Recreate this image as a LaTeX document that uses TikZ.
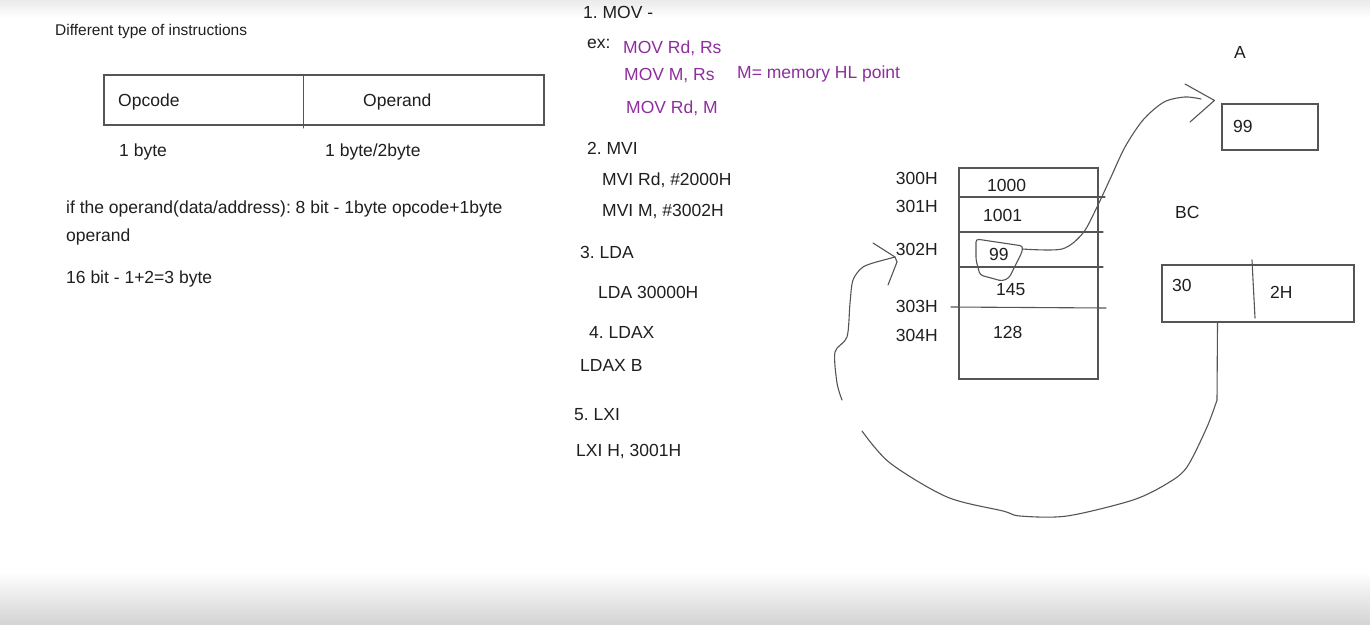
\documentclass[tikz,border=0pt]{standalone}
\usepackage{fontspec}
\setmainfont{Liberation Sans}
\definecolor{movpurple}{RGB}{142,46,158}
\definecolor{inkgrey}{RGB}{85,85,85}
\frenchspacing

\begin{document}
\begin{tikzpicture}[x = 1pt, y = -1pt,
		tnode/.style = {anchor = base west,
		                inner sep = 0pt,
		                text = black!88,
		                font = \fontsize{17.5}{21}\selectfont},
		pnode/.style = {tnode, text = movpurple},
		bnode/.style = {shape = rectangle,
		                draw = inkgrey,
		                line width = 1.1pt,
		                inner sep = 0pt},
		hand/.style = {draw = inkgrey, line width = 1.1pt, line cap = round, line join = round}]
		% page and fades
		\fill[white] (0,0) rectangle (1370,624);
		\useasboundingbox (0,0) rectangle (1370,624);
		\shade[top color = black!8, bottom color = white] (0,0) rectangle (1370,18);
		\shade[top color = white, bottom color = black!17] (0,572) rectangle (1370,624);

		% instruction format
		\node[tnode, font = \fontsize{15.5}{18}\selectfont] (title) at (55,35) {Different type of instructions};
		\node[bnode, minimum width = 440, minimum height = 50] (instr) at (324,100) {};
		\draw[hand, line width = 1pt] (303,75) -- (303,128);
		\node[tnode] (opc) at (118,106) {Opcode};
		\node[tnode] (opd) at (363,106) {Operand};
		\node[tnode] (opcsize) at (119,156) {1 byte};
		\node[tnode] (opdsize) at (325,156) {1 byte/2byte};
		\node[tnode] (rule8) at (66,213) {if the operand(data/address): 8 bit - 1byte opcode+1byte};
		\node[tnode] (rule8b) at (66,241) {operand};
		\node[tnode] (rule16) at (66,283) {16 bit - 1+2=3 byte};

		% instruction list
		\node[tnode] (mov) at (583,18) {1. MOV -};
		\node[tnode] (ex) at (587,48) {ex:};
		\node[pnode] (mov1) at (623,53) {MOV Rd, Rs};
		\node[pnode] (mov2) at (624,80) {MOV M, Rs};
		\node[pnode] (mdef) at (737,78) {M= memory HL point};
		\node[pnode] (mov3) at (626,113) {MOV Rd, M};
		\node[tnode] (mvi) at (587,154) {2. MVI};
		\node[tnode] (mvi1) at (602,185) {MVI Rd, \#2000H};
		\node[tnode] (mvi2) at (602,216) {MVI M, \#3002H};
		\node[tnode] (lda) at (580,258) {3. LDA};
		\node[tnode] (lda1) at (598,298) {LDA 30000H};
		\node[tnode] (ldax) at (589,338) {4. LDAX};
		\node[tnode] (ldax1) at (580,371) {LDAX B};
		\node[tnode] (lxi) at (574,420) {5. LXI};
		\node[tnode] (lxi1) at (576,456) {LXI H, 3001H};

		% memory
		\node[bnode, minimum width = 139, minimum height = 211] (memory) at (1028.5,273.5) {};
		\foreach \y/\e in {197/1105, 232/1103, 267/1103}
			\draw[hand] (959,\y) -- (\e,\y);
		\draw[hand] (951,307) -- (1106,308);
		\foreach \n/\y in {300/184, 301/212, 302/255, 303/312, 304/341}
			\node[tnode, anchor = base east] (a\n) at (938,\y) {\n H};
		\node[tnode] (v300) at (987,191) {1000};
		\node[tnode] (v301) at (983,221) {1001};
		\node[tnode] (v302) at (989,260) {99};
		\node[tnode] (v303) at (996,295) {145};
		\node[tnode] (v304) at (993,338) {128};
		\draw[hand, rounded corners = 3] (976,239) -- (1023,246) -- (1022,252) -- (1009,278)
			-- (1002,281) -- (980,275) -- (976,260) -- cycle;

		% registers
		\node[tnode] (labA) at (1234,58) {A};
		\node[bnode, minimum width = 96, minimum height = 46] (regA) at (1270,127) {};
		\node[tnode] (valA) at (1233,132) {99};
		\node[tnode] (labBC) at (1175,218) {BC};
		\node[bnode, minimum width = 192, minimum height = 57] (regBC) at (1258,293.5) {};
		\draw[hand] (1252,260) -- (1253,280) -- (1255,318);
		\node[tnode] (valB) at (1172,291) {30};
		\node[tnode] (valC) at (1270,298) {2H};

		% 99 goes to A
		\coordinate (loopR) at (1022,249);
		\coordinate (tipA) at ([shift = {(-7,-3)}]regA.north west);
		\draw[hand] plot[smooth, tension = 0.5] coordinates {(loopR) (1062,249) (1083,233) (1097,207)
			(1111,177) (1125,147) (1143,120) (1164,102) (1185,97) (1201,99)};
		\draw[hand] (1185,84) -- (tipA) -- (1190,122);

		% BC points at 302H
		\coordinate (tip302) at (895,257);
		\draw[hand] ([xshift = -40.5]regBC.south) -- plot[smooth, tension = 0.5] coordinates {(1217,400)
			(1207,427) (1187,467) (1168,483) (1133,500) (1067,516) (1020,516) (1003,511)
			(947,497) (890,463) (862,431)};
		\draw[hand] plot[smooth, tension = 0.5] coordinates {(842,400) (837,383) (835,352) (847,337)
			(850,303) (853,280) (863,267) (880,261)} -- (tip302);
		\draw[hand] (873,243) -- (tip302) -- (897,262) -- (888,285);
	\end{tikzpicture}
\end{document}
